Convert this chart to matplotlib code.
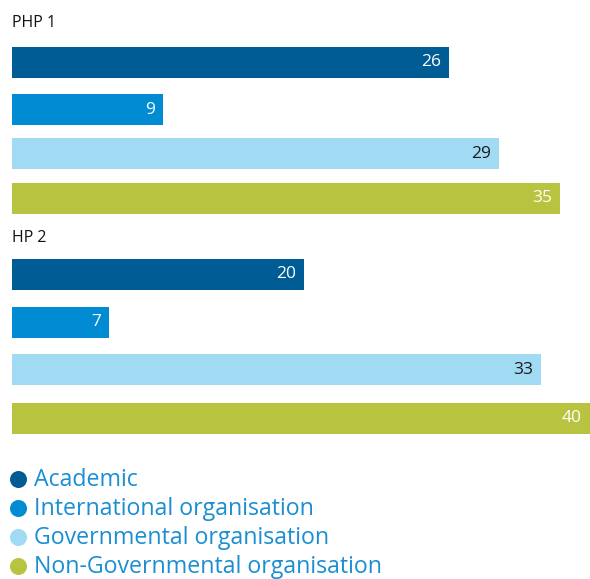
import matplotlib
matplotlib.use("Agg")
import matplotlib.pyplot as plt

groups = ["PHP 1", "HP 2"]
categories = ["Academic", "International organisation",
              "Governmental organisation", "Non-Governmental organisation"]
# labelled values
values = {"PHP 1": [26, 9, 29, 35], "HP 2": [20, 7, 33, 40]}
# bar lengths as drawn (same units)
bar_lengths = {"PHP 1": [26.0, 9.0, 29.0, 32.6], "HP 2": [17.4, 5.8, 31.5, 34.4]}

colors = ["#005C95", "#008BD2", "#A1DAF3", "#B8C43F"]
label_colors = ["white", "white", "#1a1a1a", "white"]
legend_text_color = "#1B8ED3"

plt.rcParams['font.family'] = ['Open Sans', 'DejaVu Sans']

W, H = 590, 579
fig = plt.figure(figsize=(W / 100, H / 100), dpi=100)
ax = fig.add_axes([12 / W, 0, 578 / W, 1])
ax.set_xlim(0, 34.4)
ax.set_ylim(H, 0)
ax.axis("off")

# layout: bar centres (pixel rows) per group
centres = {"PHP 1": [62.5, 109.5, 153.5, 198.5], "HP 2": [274.5, 322.5, 369.5, 418.5]}
title_y = {"PHP 1": 23, "HP 2": 238}
bar_h = 31

for g in groups:
    ax.text(0, title_y[g], g, fontsize=11.5, color="#111111", va="center", ha="left")
    for i, cat in enumerate(categories):
        L = bar_lengths[g][i]
        y = centres[g][i]
        ax.barh(y, L, height=bar_h, color=colors[i], left=0)
        ax.annotate(str(values[g][i]), xy=(L, y), xytext=(-8, 0),
                    textcoords="offset pixels",
                    ha="right", va="center", fontsize=12.5, color=label_colors[i])

# legend (manual, circle + label)
lax = fig.add_axes([0, 0, 1, 1], facecolor="none")
lax.set_xlim(0, W)
lax.set_ylim(H, 0)
lax.axis("off")
row_y = [479, 508, 537, 566]
for i, cat in enumerate(categories):
    lax.scatter([18], [row_y[i]], s=150, color=colors[i], linewidths=0)
    lax.text(34, row_y[i] + 1, cat, fontsize=16.7, color=legend_text_color,
             va="center", ha="left")

fig.savefig("out.png", dpi=100)
